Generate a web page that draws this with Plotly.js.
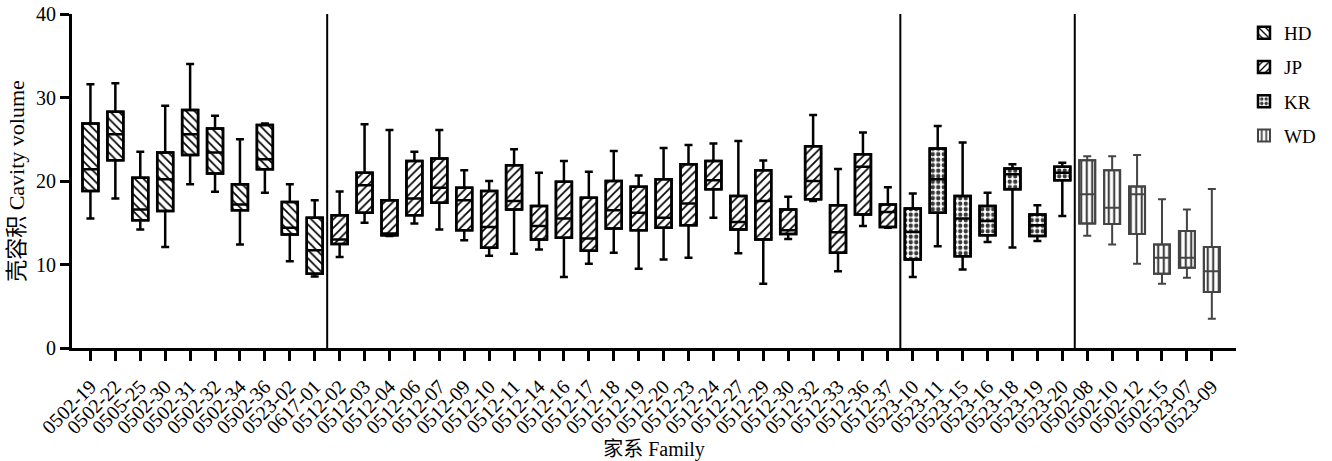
<!DOCTYPE html>
<html>
<head>
<meta charset="utf-8">
<script src="https://cdn.plot.ly/plotly-3.0.1.min.js"></script>
<style>html,body{margin:0;padding:0;background:#fff;}#chart{width:1332px;height:461px;}</style>
</head>
<body>
<div id="chart"></div>
<script>
// ---- data ----
const hdFamilies = ["0502-19","0502-22","0505-25","0502-30","0502-31","0502-32","0502-34","0502-36","0523-02","0617-01"];
const hdUpper  = [31.6, 31.7, 23.5, 29.0, 34.0, 27.8, 25.0, 26.9, 19.6, 17.7];
const hdQ3     = [26.9, 28.3, 20.4, 23.4, 28.5, 26.3, 19.6, 26.7, 17.5, 15.6];
const hdMedian = [21.4, 25.6, 16.6, 20.2, 25.6, 23.4, 17.2, 22.6, 14.4, 11.7];
const hdQ1     = [18.8, 22.5, 15.3, 16.4, 23.1, 20.9, 16.5, 21.4, 13.6, 8.9];
const hdLower  = [15.5, 17.9, 14.2, 12.1, 19.6, 18.7, 12.4, 18.6, 10.4, 8.55];

const jpFamilies = ["0512-02","0512-03","0512-04","0512-06","0512-07","0512-09","0512-10","0512-11","0512-14","0512-16","0512-17","0512-18","0512-19","0512-20","0512-23","0512-24","0512-27","0512-29","0512-30","0512-32","0512-33","0512-36","0512-37"];
const jpUpper  = [18.75, 26.8, 26.1, 23.5, 26.1, 21.3, 20.0, 23.8, 21.0, 22.4, 21.1, 23.6, 20.65, 23.95, 24.3, 24.5, 24.8, 22.45, 18.1, 27.9, 21.45, 25.8, 19.25];
const jpQ3     = [15.9, 21.0, 17.7, 22.4, 22.7, 19.2, 18.8, 21.9, 17.0, 19.9, 18.0, 20.0, 19.3, 20.2, 22.0, 22.4, 18.2, 21.3, 16.6, 24.15, 17.1, 23.2, 17.2];
const jpMedian = [13.0, 19.5, 13.7, 17.9, 19.2, 17.7, 14.5, 17.6, 14.6, 15.5, 13.1, 16.5, 16.2, 15.6, 17.3, 20.1, 15.1, 17.6, 14.1, 20.0, 13.85, 21.7, 16.3];
const jpQ1     = [12.45, 16.2, 13.5, 15.9, 17.4, 14.1, 12.0, 16.6, 13.0, 13.2, 11.65, 14.3, 14.1, 14.4, 14.7, 19.0, 14.2, 13.0, 13.65, 17.8, 11.4, 16.0, 14.5];
const jpLower  = [10.9, 15.0, 13.4, 14.9, 14.2, 12.9, 11.05, 11.3, 11.8, 8.5, 10.1, 11.4, 9.5, 10.6, 10.8, 15.6, 11.35, 7.7, 13.05, 17.6, 9.2, 14.6, 14.4];

const krFamilies = ["0523-10","0523-11","0523-15","0523-16","0523-18","0523-19","0523-20"];
const krUpper  = [18.5, 26.6, 24.6, 18.6, 22.0, 17.1, 22.2];
const krQ3     = [16.7, 23.9, 18.2, 17.0, 21.5, 16.0, 21.7];
const krMedian = [13.9, 20.2, 15.5, 15.2, 20.8, 14.7, 21.0];
const krQ1     = [10.6, 16.2, 11.0, 13.5, 19.0, 13.4, 20.1];
const krLower  = [8.5, 12.2, 9.4, 12.7, 12.05, 12.8, 15.8];

const wdFamilies = ["0502-08","0502-10","0502-12","0502-15","0523-07","0523-09"];
const wdUpper  = [22.95, 22.95, 23.1, 17.8, 16.6, 19.05];
const wdQ3     = [22.5, 21.3, 19.35, 12.4, 14.0, 12.1];
const wdMedian = [18.4, 16.8, 18.4, 10.8, 10.8, 9.2];
const wdQ1     = [14.9, 14.85, 13.65, 8.9, 9.6, 6.7];
const wdLower  = [13.45, 12.4, 10.1, 7.7, 8.4, 3.5];

const groupNames = ["HD", "JP", "KR", "WD"];
const yTicks = [0, 10, 20, 30, 40];

// ---- build traces ----
const FONT = "Liberation Serif, Times New Roman, Noto Sans CJK SC, serif";
const groups = [
  {name: groupNames[0], fam: hdFamilies, up: hdUpper, q3: hdQ3, med: hdMedian, q1: hdQ1, lo: hdLower,
   shape: "\\", fg: "#000", size: 6, sol: 0.28, line: "#000", lw: 2.5},
  {name: groupNames[1], fam: jpFamilies, up: jpUpper, q3: jpQ3, med: jpMedian, q1: jpQ1, lo: jpLower,
   shape: "/", fg: "#000", size: 6, sol: 0.28, line: "#000", lw: 2.5},
  {name: groupNames[2], fam: krFamilies, up: krUpper, q3: krQ3, med: krMedian, q1: krQ1, lo: krLower,
   shape: ".", fg: "#3a3a3a", size: 5.5, sol: 0.5, line: "#000", lw: 2.5},
  {name: groupNames[3], fam: wdFamilies, up: wdUpper, q3: wdQ3, med: wdMedian, q1: wdQ1, lo: wdLower,
   shape: "|", fg: "#444", size: 5.5, sol: 0.4, line: "#444", lw: 2},
];

const BOXW = 0.64;
const traces = [];
groups.forEach((g, i) => {
  traces.push({
    type: "bar", name: g.name, legendgroup: g.name, showlegend: true,
    x: g.fam, base: g.q1, y: g.q3.map((v, k) => v - g.q1[k]), width: BOXW,
    marker: {color: "#fff", line: {color: g.line, width: g.lw},
             pattern: {shape: g.shape, fgcolor: g.fg, bgcolor: "#fff", size: g.size, solidity: g.sol}},
    hoverinfo: "skip"
  });
  traces.push({
    type: "box", name: g.name, legendgroup: g.name, showlegend: false,
    x: g.fam, q1: g.q1, median: g.med, q3: g.q3, lowerfence: g.lo, upperfence: g.up,
    width: BOXW, whiskerwidth: 0.5, fillcolor: "rgba(0,0,0,0)",
    line: {color: g.line, width: g.lw}, boxpoints: false
  });
});

const allFamilies = [].concat(hdFamilies, jpFamilies, krFamilies, wdFamilies);

// group separators between category blocks
const shapes = [];
let cum = 0;
groups.slice(0, 3).forEach(g => {
  cum += g.fam.length;
  shapes.push({type: "line", xref: "x", yref: "y", x0: cum - 0.5, x1: cum - 0.5, y0: 0, y1: 40,
               line: {color: "#000", width: 2}});
});

const layout = {
  width: 1332, height: 461,
  margin: {l: 72, r: 95, t: 14, b: 113},
  paper_bgcolor: "#fff", plot_bgcolor: "#fff",
  font: {family: FONT, color: "#000", size: 16},
  barmode: "overlay", boxmode: "overlay",
  showlegend: true,
  legend: {x: 1.006, xanchor: "left", y: 1.0, yanchor: "top", font: {family: FONT, size: 19, color: "#000"},
           traceorder: "grouped", tracegroupgap: 6.5, bgcolor: "rgba(0,0,0,0)"},
  xaxis: {
    type: "category", categoryorder: "array", categoryarray: allFamilies,
    tickmode: "array", tickvals: allFamilies, ticktext: allFamilies,
    range: [-0.74, 45.97], showgrid: false, zeroline: false, automargin: false,
    showline: true, linecolor: "#000", linewidth: 3,
    ticks: "outside", ticklen: 10, tickwidth: 3, tickcolor: "#000",
    tickangle: -45, ticklabelstandoff: 6, tickfont: {family: FONT, size: 20, color: "#000"},
    title: {text: "家系 Family", font: {family: FONT, size: 20, color: "#000"}, standoff: 0}
  },
  yaxis: {
    range: [0, 40], tickvals: yTicks, showgrid: false, zeroline: false,
    showline: true, linecolor: "#000", linewidth: 3,
    ticks: "outside", ticklen: 9, tickwidth: 3, tickcolor: "#000",
    tickfont: {family: FONT, size: 20, color: "#000"},
    title: {text: "壳容积 Cavity volume", font: {family: FONT, size: 22, color: "#000"}, standoff: 6}
  },
  shapes: shapes
};

Plotly.newPlot("chart", traces, layout, {displayModeBar: false, staticPlot: true});
</script>
</body>
</html>
